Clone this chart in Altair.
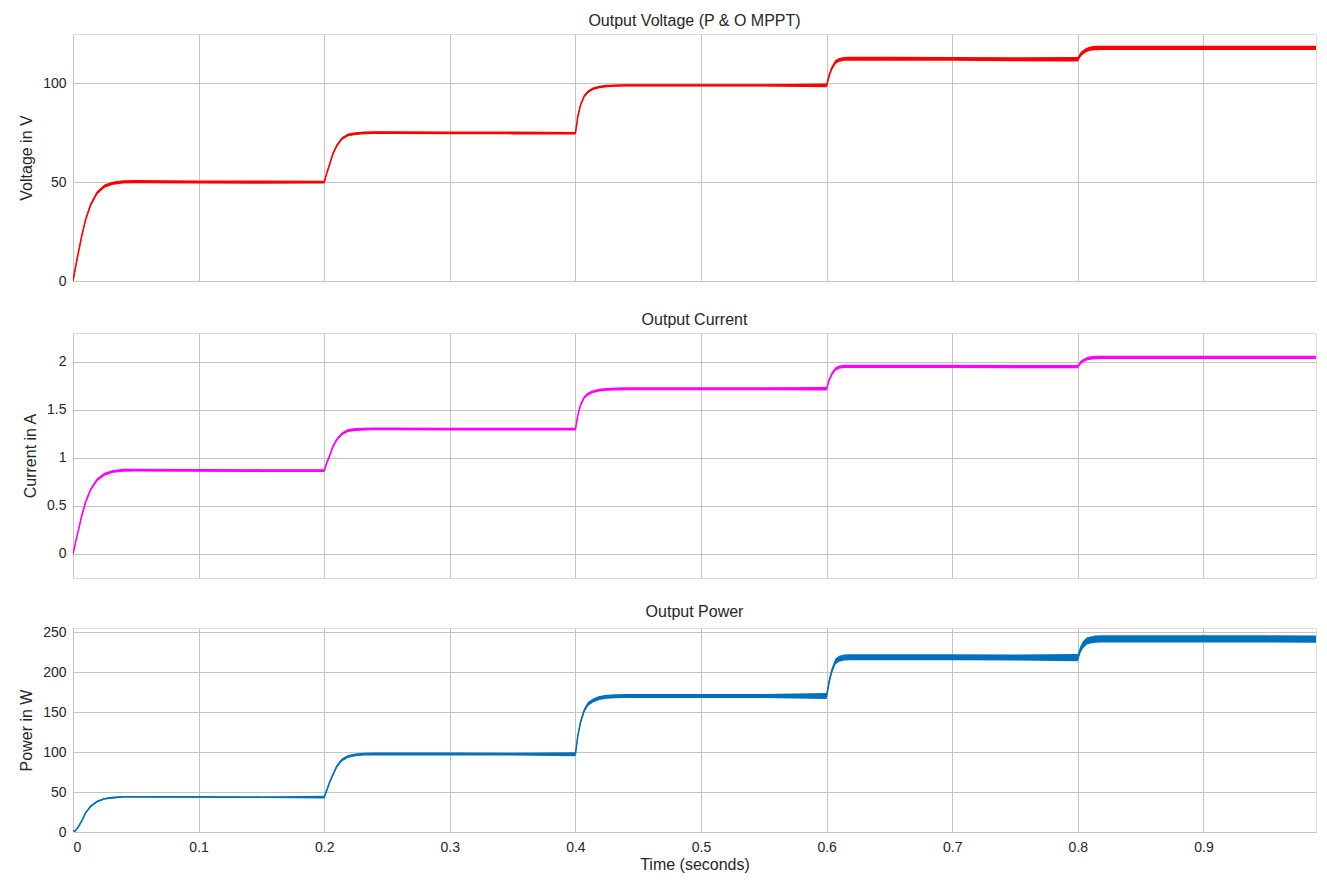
import altair as alt
import pandas as pd

# ---- data ----
time = [0.000, 0.002, 0.004, 0.007, 0.010, 0.014, 0.019, 0.025, 0.032, 0.040, 0.050, 0.100, 0.150,
        0.200, 0.202, 0.204, 0.207, 0.210, 0.214, 0.219, 0.225, 0.232, 0.240, 0.250, 0.300, 0.350,
        0.400, 0.402, 0.404, 0.407, 0.410, 0.414, 0.419, 0.425, 0.432, 0.440, 0.450, 0.500, 0.550,
        0.600, 0.602, 0.604, 0.607, 0.610, 0.614, 0.619, 0.625, 0.632, 0.640, 0.650, 0.700, 0.750,
        0.800, 0.802, 0.804, 0.807, 0.810, 0.814, 0.819, 0.825, 0.832, 0.840, 0.850, 0.900, 0.950, 1.000]

voltage = [0, 7, 13.5, 23, 31, 38.5, 44.5, 48, 49.5, 50.2, 50.3, 50.1, 50.0,
           50.0, 54.5, 58.5, 64.5, 68.5, 72, 73.9, 74.6, 75.0, 75.1, 75.1, 75.0, 74.9,
           74.8, 83.5, 89, 93.5, 95.8, 97.3, 98.2, 98.7, 98.9, 99, 99, 99, 99,
           99, 104, 107.5, 110.8, 111.9, 112.4, 112.5, 112.5, 112.5, 112.5, 112.5, 112.4, 112.2,
           112.2, 114.5, 115.7, 117, 117.6, 117.9, 118, 118, 118, 118, 118, 118, 118, 118]

current = [0, 0.12, 0.23, 0.40, 0.54, 0.67, 0.77, 0.83, 0.86, 0.872, 0.873, 0.87, 0.868,
           0.868, 0.95, 1.01, 1.12, 1.19, 1.25, 1.285, 1.295, 1.30, 1.302, 1.302, 1.30, 1.30,
           1.30, 1.45, 1.55, 1.63, 1.665, 1.69, 1.705, 1.713, 1.717, 1.72, 1.72, 1.72, 1.72,
           1.72, 1.81, 1.87, 1.925, 1.945, 1.952, 1.953, 1.953, 1.953, 1.953, 1.953, 1.952, 1.95,
           1.95, 1.99, 2.01, 2.03, 2.04, 2.045, 2.047, 2.047, 2.047, 2.047, 2.047, 2.047, 2.047, 2.047]

power = [0, 2, 6, 14, 24, 32, 38, 41.5, 43, 44, 44, 43.8, 43.5,
         43.5, 52, 61, 72, 82, 90, 94.5, 96.5, 97.3, 97.5, 97.5, 97.5, 97.3,
         97.3, 121, 137, 152, 160, 164.5, 167.5, 169, 169.7, 170, 170, 170, 170,
         170, 188, 201, 213, 216.5, 218, 218.5, 218.5, 218.5, 218.5, 218.5, 218.3, 218,
         218, 228, 234, 238.5, 240, 241, 241.3, 241.3, 241.3, 241.3, 241.3, 241.3, 241.3, 241]

v_ripple = [1.6, 1.4, 1.2, 2.0, 2.2]
i_ripple = [0.03, 0.03, 0.03, 0.035, 0.035]
p_ripple = [2.0, 3.5, 5.0, 7.5, 9.0]

x_ticks = [0, 0.1, 0.2, 0.3, 0.4, 0.5, 0.6, 0.7, 0.8, 0.9]
v_ticks = [0, 50, 100]
i_ticks = [0, 0.5, 1, 1.5, 2]
p_ticks = [0, 50, 100, 150, 200, 250]

# ---- build table ----
sec = [min(int(round(t * 1000)) // 200, 4) for t in time]
df = pd.DataFrame({"t": time, "v": voltage, "i": current, "p": power})
df["v_lo"] = [a - v_ripple[s] / 2 for a, s in zip(voltage, sec)]
df["v_hi"] = [a + v_ripple[s] / 2 for a, s in zip(voltage, sec)]
df["i_lo"] = [a - i_ripple[s] / 2 for a, s in zip(current, sec)]
df["i_hi"] = [a + i_ripple[s] / 2 for a, s in zip(current, sec)]
df["p_lo"] = [a - p_ripple[s] / 2 for a, s in zip(power, sec)]
df["p_hi"] = [a + p_ripple[s] / 2 for a, s in zip(power, sec)]

FONT = "Liberation Sans"
TXT = "#262626"
GRID = "#c4c4c4"
W = 1243
X_MAX = 0.9896
LBL = "datum.value + ''"


def panel(col, color, title, ytitle, ydomain, yvals, height, bottom, toff):
    xaxis = alt.Axis(
        values=x_ticks, labelExpr=LBL, labels=bottom, ticks=False, domain=False,
        title="Time (seconds)" if bottom else None,
        labelFontSize=14, labelColor=TXT, labelFont=FONT, labelPadding=8,
        titleFontSize=16, titleColor=TXT, titleFont=FONT, titleFontWeight="normal",
        titlePadding=2, gridColor=GRID, gridOpacity=1,
    )
    yaxis = alt.Axis(
        values=yvals, labelExpr=LBL, ticks=False, domain=False, title=ytitle,
        labelFontSize=14, labelColor=TXT, labelFont=FONT, labelPadding=7,
        titleFontSize=16, titleColor=TXT, titleFont=FONT, titleFontWeight="normal",
        titlePadding=8, gridColor=GRID, gridOpacity=1,
    )
    x = alt.X("t:Q", scale=alt.Scale(domain=[0, X_MAX], nice=False, zero=False), axis=xaxis)
    yscale = alt.Scale(domain=ydomain, nice=False, zero=False)
    base = alt.Chart(df)
    band = base.mark_area(color=color, clip=True, opacity=1).encode(
        x=x,
        y=alt.Y(col + "_lo:Q", scale=yscale, axis=yaxis),
        y2=alt.Y2(col + "_hi:Q"),
    )
    line = base.mark_line(color=color, strokeWidth=1.6, clip=True).encode(
        x=x,
        y=alt.Y(col + ":Q", scale=yscale, axis=yaxis),
    )
    return alt.layer(band, line).properties(
        width=W, height=height,
        title=alt.TitleParams(title, fontSize=16, font=FONT, fontWeight="normal",
                              color=TXT, offset=toff),
    )


p1 = panel("v", "#FF0000", "Output Voltage (P & O MPPT)", "Voltage in V", [0, 125], v_ticks, 247, False, 5)
p2 = panel("i", "#FF00FF", "Output Current", "Current in A", [-0.25, 2.3], i_ticks, 245, False, 5)
p3 = panel("p", "#0072BD", "Output Power", "Power in W", [0, 255], p_ticks, 204, True, 5)

top_two = alt.vconcat(p1, p2, spacing=22)
chart = alt.vconcat(top_two, p3, spacing=24).properties(
    padding={"left": 10, "top": 4, "right": 0, "bottom": 0}
).configure_view(
    stroke="#7a7a7a", strokeWidth=1
).configure(background="white")

chart.save("out.html", embed_options={"renderer": "svg", "actions": False})
